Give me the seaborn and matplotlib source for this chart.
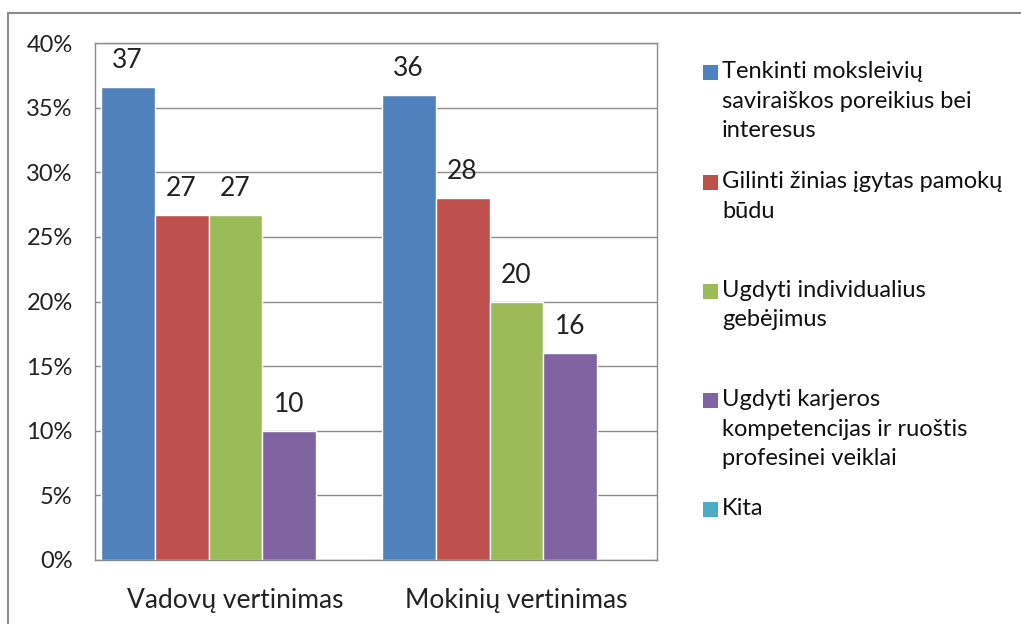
import matplotlib
matplotlib.use("Agg")
import matplotlib.pyplot as plt
import seaborn as sns
import pandas as pd
from matplotlib.patches import Rectangle

categories = ["Vadovų vertinimas", "Mokinių vertinimas"]
series = [
    "Tenkinti moksleivių\nsaviraiškos poreikius bei\ninteresus",
    "Gilinti žinias įgytas pamokų\nbūdu",
    "Ugdyti individualius\ngebėjimus",
    "Ugdyti karjeros\nkompetencijas ir ruoštis\nprofesinei veiklai",
    "Kita",
]
vadovu = [36.6, 26.7, 26.7, 10.0, 0.0]
mokiniu = [36.0, 28.0, 20.0, 16.0, 0.0]
colors = ["#4F81BD", "#C0504D", "#9BBB59", "#8064A2", "#4BACC6"]
yticks = [0, 5, 10, 15, 20, 25, 30, 35, 40]

rows = []
for s, a, b in zip(series, vadovu, mokiniu):
    rows.append({"cat": categories[0], "series": s, "val": a})
    rows.append({"cat": categories[1], "series": s, "val": b})
df = pd.DataFrame(rows)

sns.set_style("white")
plt.rcParams["font.family"] = ["Lato", "DejaVu Sans"]

fig = plt.figure(figsize=(10.21, 6.24), dpi=100)
ax = fig.add_axes([95/1021, 1-560/624, (657-95)/1021, (560-43)/624])

sns.barplot(data=df, x="cat", y="val", hue="series", order=categories,
            hue_order=series, palette=colors, width=0.96, saturation=1,
            ax=ax, legend=False)

for cont, s in zip(ax.containers, series):
    labels = []
    for bar in cont:
        h = bar.get_height()
        labels.append("" if h == 0 else f"{round(h):d}")
    ax.bar_label(cont, labels=labels, padding=10, fontsize=19, color="#222222")

ax.set_ylim(0, 40)
ax.set_yticks(yticks)
ax.set_yticklabels([f"{t}%" for t in yticks], fontsize=17, color="#222222")
ax.tick_params(axis="y", length=0, pad=16)
ax.tick_params(axis="x", length=0, pad=20, labelsize=19, labelcolor="#222222")
ax.set_xlabel("")
ax.set_ylabel("")
ax.yaxis.grid(True, color="#8c8c8c", linewidth=1)
ax.set_axisbelow(True)
for sp in ax.spines.values():
    sp.set_visible(True)
    sp.set_color("#8c8c8c")
    sp.set_linewidth(1)

# legend drawn manually
leg_y = [72, 182, 291, 400, 509]
for s, c, y in zip(series, colors, leg_y):
    fig.add_artist(Rectangle((703/1021, 1-(y+8)/624), 15/1021, 15/624,
                             transform=fig.transFigure, facecolor=c,
                             edgecolor="none"))
    fig.text(722/1021, 1-(y-11)/624, s, fontsize=17, va="top", ha="left",
             color="#111111", linespacing=1.5)

# outer frame
fig.add_artist(Rectangle((8/1021, -0.05), 1.1, 1-13/624+0.05,
                         transform=fig.transFigure, fill=False,
                         edgecolor="#8c8c8c", linewidth=1.5))

fig.savefig("out.png", dpi=100, facecolor="white")
